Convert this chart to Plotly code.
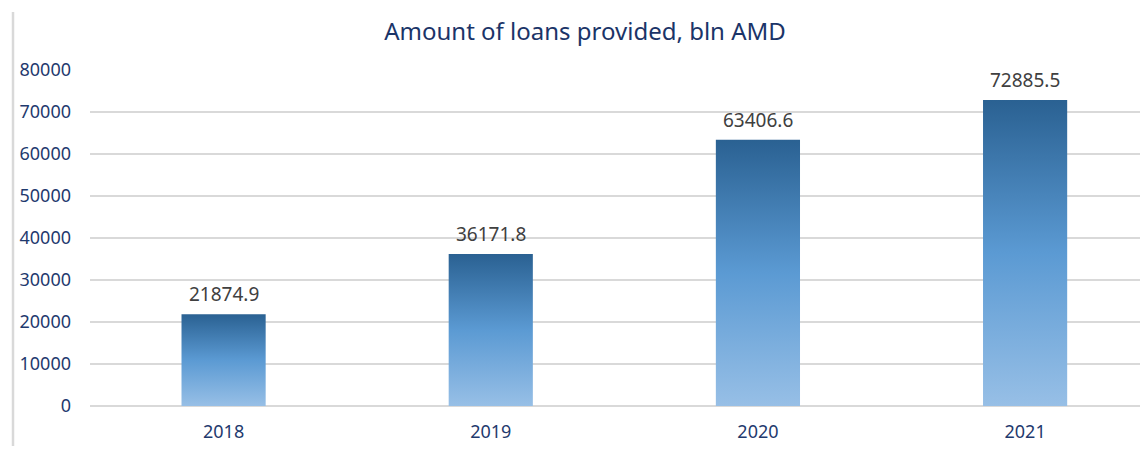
import plotly.graph_objects as go

years = ["2018", "2019", "2020", "2021"]
loans = [21874.9, 36171.8, 63406.6, 72885.5]
y_ticks = [0, 10000, 20000, 30000, 40000, 50000, 60000, 70000, 80000]
title_text = "Amount of loans provided, bln AMD"

bar_width = 0.315
grad = [[0, "#97BFE6"], [0.5, "#5B9AD3"], [1, "#2A6192"]]
navy = "#1F3A6E"

W, H = 1140, 438          # page body has an 8px margin on each side
ML, MR, MT, MB = 82, 0, 62, 40
PW, PH = W - ML - MR, H - MT - MB

fig = go.Figure()
for i, (yr, v) in enumerate(zip(years, loans)):
    x0, x1 = i - bar_width / 2, i + bar_width / 2
    fig.add_trace(go.Scatter(
        x=[x0, x1, x1, x0, x0], y=[0, 0, v, v, 0],
        mode="lines", fill="toself", line=dict(width=0),
        fillgradient=dict(type="vertical", colorscale=grad, start=0, stop=v),
        hoverinfo="skip", showlegend=False, name=yr,
    ))
    fig.add_annotation(x=i, y=v, text=f"{v:.1f}", showarrow=False,
                       yshift=20, font=dict(size=19, color="#404040",
                                            family="Noto Sans"))

bx = (5 - ML) / PW
fig.add_shape(type="line", xref="paper", yref="paper",
              x0=bx, x1=bx, y0=-MB / PH, y1=1 + (MT - 4) / PH,
              line=dict(color="#D9D9D9", width=2.5))

fig.update_layout(
    width=W, height=H,
    margin=dict(l=ML, r=MR, t=MT, b=MB, pad=0),
    paper_bgcolor="white", plot_bgcolor="white",
    title=dict(text=title_text, x=(585 - 8) / W, xanchor="center",
               y=1 - 24 / H, yanchor="middle", yref="container",
               font=dict(size=24, color="#1B3468", family="Noto Sans")),
    font=dict(family="Noto Sans", color=navy),
    xaxis=dict(range=[-0.5, 3.46], tickvals=list(range(len(years))),
               ticktext=years, showgrid=False, zeroline=False,
               showline=False, ticks="", ticklabelstandoff=13,
               tickfont=dict(size=18, color=navy)),
    yaxis=dict(range=[0, 80000],
               tickvals=y_ticks, ticktext=[str(t) for t in y_ticks],
               showgrid=True, gridcolor="#D9D9D9", gridwidth=1.5,
               zeroline=True, zerolinecolor="#D9D9D9", zerolinewidth=1.5,
               ticks="", ticklabelstandoff=18,
               tickfont=dict(size=18, color=navy)),
)

fig.write_html("out.html")
